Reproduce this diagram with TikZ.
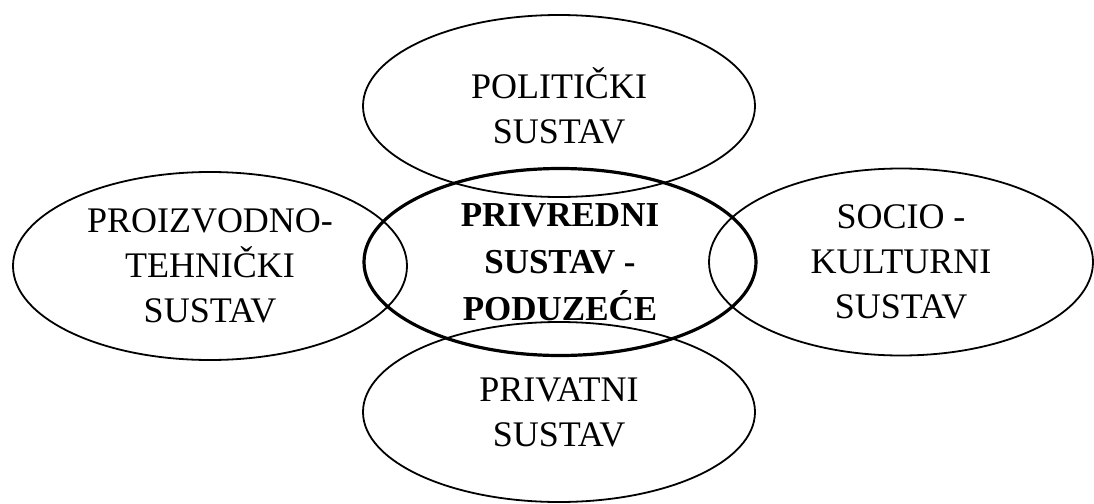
\documentclass[tikz,border=0pt]{standalone}
\usepackage{fontspec}
\setmainfont{Liberation Serif}
\usetikzlibrary{shapes.geometric}
\begin{document}
\begin{tikzpicture}[x=1pt,y=-1pt,
  sys/.style={ellipse, draw=black, line width=1.8pt, inner sep=0pt, align=center,
    font=\fontsize{36}{45}\selectfont},
  core/.style={sys, line width=3.2pt, font=\fontsize{35}{47}\selectfont\bfseries}]
\useasboundingbox (0,0) rectangle (1094,503);
\node[sys, minimum width=392pt, minimum height=182pt] (pol) at (559,106) {POLITIČKI\\SUSTAV};
\node[sys, minimum width=394pt, minimum height=188pt] (pro) at (210,266) {PROIZVODNO-\\TEHNIČKI\\SUSTAV};
\node[sys, minimum width=384pt, minimum height=187pt] (soc) at (901,262) {SOCIO -\\KULTURNI\\SUSTAV};
\node[sys, minimum width=392pt, minimum height=180pt] (pri) at (559,412) {PRIVATNI\\SUSTAV};
\node[core, minimum width=392pt, minimum height=187pt] (pod) at (560,262) {PRIVREDNI\\SUSTAV -\\PODUZEĆE};
\end{tikzpicture}
\end{document}
